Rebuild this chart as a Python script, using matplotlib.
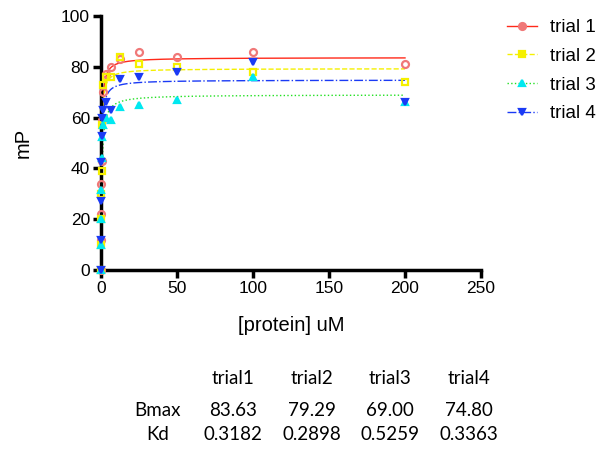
import numpy as np
import matplotlib
matplotlib.use('Agg')
import matplotlib.pyplot as plt

# protein concentration series (uM)
conc = [0, 0.049, 0.098, 0.195, 0.39, 0.78, 1.5625, 3.125, 6.25, 12.5, 25, 50, 100, 200]

trial1 = [0, 12, 22, 34, 43, 59, 70, 77, 80, 83, 86, 84, 86, 81]
trial2 = [0, 10, 20, 30, 39, 57, 73, 76, 76, 84, 81, 80, 78, 74]
trial3 = [0, 10, 20, 31.5, 44, 52.5, 57, 60, 59, 64, 65, 67, 76, 66]
trial4 = [0, 12, 27, 42.6, 52.7, 60, 63, 66, 63, 75, 76, 78, 82, 66]

trial_names = ['trial1', 'trial2', 'trial3', 'trial4']
legend_names = ['trial 1', 'trial 2', 'trial 3', 'trial 4']
bmax = [83.63, 79.29, 69.00, 74.80]
kd = [0.3182, 0.2898, 0.5259, 0.3363]

series = [trial1, trial2, trial3, trial4]
styles = [
    dict(lc='#ff2a1a', ls='-', mk='o', mfc='none', mec='#f07878'),
    dict(lc='#f5f000', ls='--', mk='s', mfc='none', mec='#f5f000'),
    dict(lc='#22e022', ls=':', mk='^', mfc='#00e8f0', mec='#00e8f0'),
    dict(lc='#1a3af5', ls='-.', mk='v', mfc='#1a3af5', mec='#1a3af5'),
]

plt.rcParams['font.family'] = ['Liberation Sans', 'DejaVu Sans']

fig = plt.figure(figsize=(6.02, 4.49), dpi=100)
ax = fig.add_axes([101 / 602, 1 - 270 / 449, 380 / 602, 254 / 449])

xfit = np.linspace(0, 200, 2000)
handles = []
for y, st, b, k, name in zip(series, styles, bmax, kd, legend_names):
    ax.plot(xfit, b * xfit / (k + xfit), color=st['lc'], ls=st['ls'], lw=1.0, zorder=2)
    ax.plot(conc, y, ls='none', marker=st['mk'], ms=5, mfc=st['mfc'],
            mec=st['mec'], mew=1.6, clip_on=False, zorder=3)
    h, = ax.plot([], [], color=st['lc'], ls=st['ls'], lw=1.0, marker=st['mk'],
                 ms=5, mfc=st['mec'], mec=st['mec'], mew=1.6)
    handles.append(h)

ax.set_xlim(0, 250)
ax.set_ylim(0, 100)
ax.set_xticks([0, 50, 100, 150, 200, 250])
ax.set_yticks([0, 20, 40, 60, 80, 100])
for s in ['top', 'right']:
    ax.spines[s].set_visible(False)
for s in ['left', 'bottom']:
    ax.spines[s].set_linewidth(2.5)
ax.tick_params(width=2.5, length=6, labelsize=12.5, pad=2)
ax.set_xlabel('[protein] uM', fontsize=14.5, labelpad=14)
ax.set_ylabel('mP', fontsize=14.5, labelpad=20)

fig.legend(handles, legend_names, loc='upper left', bbox_to_anchor=(507 / 602, 1 - 19 / 449),
           frameon=False, fontsize=13.5, handlelength=1.6, handletextpad=0.7,
           labelspacing=0.62, borderpad=0, borderaxespad=0)

# parameter table under the plot
tfont = ['Lato', 'DejaVu Sans']
tsize = 13.5
col_x = [233, 312, 390, 469]
for cx, name, b, k in zip(col_x, trial_names, bmax, kd):
    fig.text(cx / 602, 1 - 379 / 449, name, ha='center', va='center', fontsize=tsize, family=tfont)
    fig.text(cx / 602, 1 - 410 / 449, f'{b:.2f}', ha='center', va='center', fontsize=tsize, family=tfont)
    fig.text(cx / 602, 1 - 434 / 449, f'{k:.4f}', ha='center', va='center', fontsize=tsize, family=tfont)
fig.text(158 / 602, 1 - 410 / 449, 'Bmax', ha='center', va='center', fontsize=tsize, family=tfont)
fig.text(158 / 602, 1 - 434 / 449, 'Kd', ha='center', va='center', fontsize=tsize, family=tfont)

fig.savefig('out.png', dpi=100)
